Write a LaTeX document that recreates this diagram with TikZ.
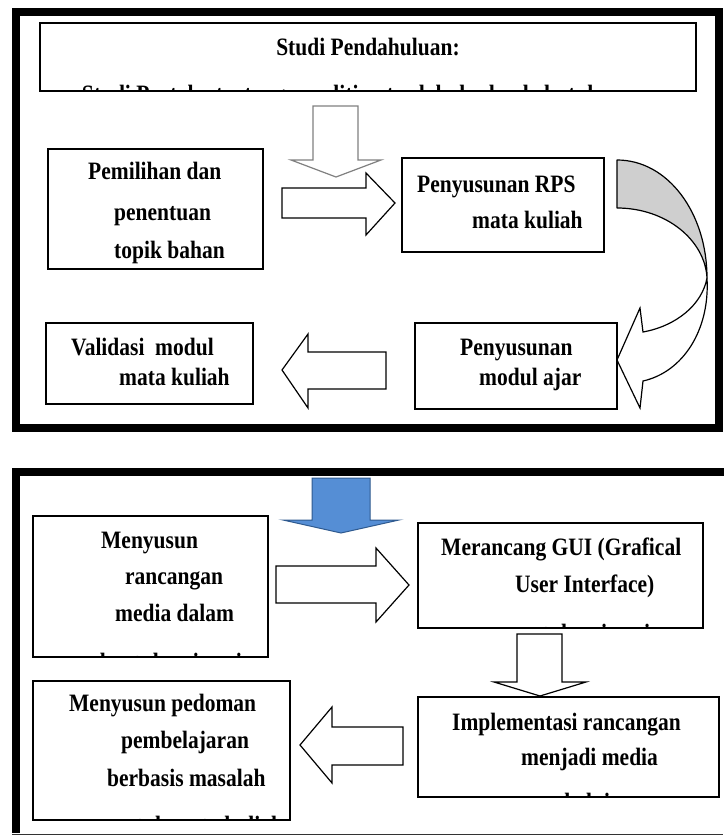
\documentclass[tikz,border=0pt]{standalone}
\usepackage{fontspec}
\setmainfont{Liberation Serif}
\newfontfamily\narrowserif[FakeStretch=0.86]{Liberation Serif}
\definecolor{bandgray}{HTML}{CFCFCF}
\definecolor{arrowblue}{HTML}{558ED5}
\definecolor{arrowblueline}{HTML}{2F5A8F}
\begin{document}
\begin{tikzpicture}[x=1pt,y=-1pt,
  box/.style={draw=black,line width=1.5pt,fill=white,inner sep=0pt},
  lbl/.style={anchor=base west,inner sep=0pt,font={\narrowserif\bfseries\fontsize{25}{28}\selectfont}},
  blockarrow/.style={draw=black,line width=1.2pt,fill=white,line join=miter},
  framerule/.style={line width=8pt,draw=black}]
\useasboundingbox (0,0) rectangle (723,835);
\fill[white] (0,0) rectangle (723,835);

% ---------- upper panel ----------
\draw[framerule] (16,12) rectangle (719,428);

\node[box,line width=1.8pt,minimum width=656pt,minimum height=68pt] (studi) at (368,57) {};
\begin{scope}
  \clip ([shift={(1,-1)}]studi.south west) rectangle ([shift={(-1,1)}]studi.north east);
  \node[lbl,anchor=base] (studiA) at (368,55) {Studi Pendahuluan:};
  \node[lbl,anchor=base] (studiB) at (352,102) {Studi Pustaka tentang penelitian terdahulu dan kebutuhan};
\end{scope}

% open down arrow under the study box
\draw[blockarrow,draw=gray] (313,106) -- (358,106) -- (358,160) -- (381,160) -- (336,177)
  -- (291,160) -- (313,160) -- cycle;

\node[box,minimum width=215pt,minimum height=120pt] (pem) at (155.5,209) {};
\node[lbl] (pemA) at (88,179) {Pemilihan dan};
\node[lbl] (pemB) at (114,220) {penentuan};
\node[lbl] (pemC) at (114,258) {topik bahan};

\draw[blockarrow] (282,188) -- (366,188) -- (366,173) -- (395,203) -- (366,235) -- (366,218)
  -- (282,218) -- cycle;

\node[box,minimum width=202pt,minimum height=94pt] (rps) at (503,205) {};
\node[lbl] (rpsA) at (417,192) {Penyusunan RPS};
\node[lbl] (rpsB) at (472,228) {mata kuliah};

% curved arrow from the RPS box down to the module box
\draw[line width=1.2pt,fill=bandgray,line join=round]
  (617,160) .. controls (668,160) and (707,213) .. (707,278)
  .. controls (705,240) and (666,208) .. (617,208) -- cycle;
\draw[line width=1.2pt,fill=white,line join=miter]
  (707,278) .. controls (710,330) and (683,372) .. (643,381)
  -- (640,408) -- (617,360) -- (640,308) -- (643,332)
  .. controls (676,326) and (702,305) .. (707,278);

\node[box,minimum width=207pt,minimum height=81pt] (val) at (149.5,363.5) {};
\node[lbl] (valA) at (71,355) {Validasi\ \ modul};
\node[lbl] (valB) at (119,385) {mata kuliah};

\draw[blockarrow] (386,352) -- (308,352) -- (308,334) -- (282,370) -- (308,408) -- (308,389)
  -- (386,389) -- cycle;

\node[box,minimum width=202pt,minimum height=86pt] (modul) at (516,366) {};
\node[lbl] (modulA) at (460,355) {Penyusunan};
\node[lbl] (modulB) at (479,385) {modul ajar};

% ---------- lower panel ----------
\draw[framerule] (16,833) -- (16,472) -- (727,472);
\draw[line width=1pt,black!80] (12,834) -- (723,834);

\draw[line width=1pt,draw=arrowblueline,fill=arrowblue,line join=miter]
  (312,478) -- (370,478) -- (370,520) -- (399,520) -- (341,533) -- (283,520) -- (312,520) -- cycle;

\node[box,minimum width=235pt,minimum height=141pt] (media) at (150.5,586.5) {};
\begin{scope}
  \clip ([shift={(1,-1)}]media.south west) rectangle ([shift={(-1,1)}]media.north east);
  \node[lbl] (mediaA) at (101,548) {Menyusun};
  \node[lbl] (mediaB) at (125,584) {rancangan};
  \node[lbl] (mediaC) at (115,621) {media dalam};
  \node[lbl] (mediaD) at (100,670) {bentuk animasi};
\end{scope}

\draw[blockarrow] (276,566) -- (376,566) -- (376,548) -- (409,585) -- (376,622) -- (376,603)
  -- (276,603) -- cycle;

\node[box,minimum width=285pt,minimum height=105pt] (gui) at (560.5,575.5) {};
\begin{scope}
  \clip ([shift={(1,-1)}]gui.south west) rectangle ([shift={(-1,1)}]gui.north east);
  \node[lbl] (guiA) at (441,555) {Merancang GUI (Grafical};
  \node[lbl] (guiB) at (515,592) {User Interface)};
  \node[lbl] (guiC) at (518,641) {untuk animasi};
\end{scope}

\draw[blockarrow] (517,634) -- (562,634) -- (562,682) -- (586,682) -- (540,696) -- (494,682)
  -- (517,682) -- cycle;

\node[box,minimum width=301pt,minimum height=100pt] (impl) at (568.5,747) {};
\begin{scope}
  \clip ([shift={(1,-1)}]impl.south west) rectangle ([shift={(-1,1)}]impl.north east);
  \node[lbl] (implA) at (452,730) {Implementasi rancangan};
  \node[lbl] (implB) at (521,765) {menjadi media};
  \node[lbl] (implC) at (525,810) {pembelajaran};
\end{scope}

\draw[blockarrow] (403,727) -- (332,727) -- (332,707) -- (300,745) -- (332,783) -- (332,765)
  -- (403,765) -- cycle;

\node[box,minimum width=257pt,minimum height=139pt] (ped) at (161.5,750.5) {};
\begin{scope}
  \clip ([shift={(1,-1)}]ped.south west) rectangle ([shift={(-1,1)}]ped.north east);
  \node[lbl] (pedA) at (69,711) {Menyusun pedoman};
  \node[lbl] (pedB) at (121,748) {pembelajaran};
  \node[lbl] (pedC) at (107,786) {berbasis masalah};
  \node[lbl] (pedD) at (112,833) {untuk mata kuliah};
\end{scope}
\end{tikzpicture}
\end{document}
